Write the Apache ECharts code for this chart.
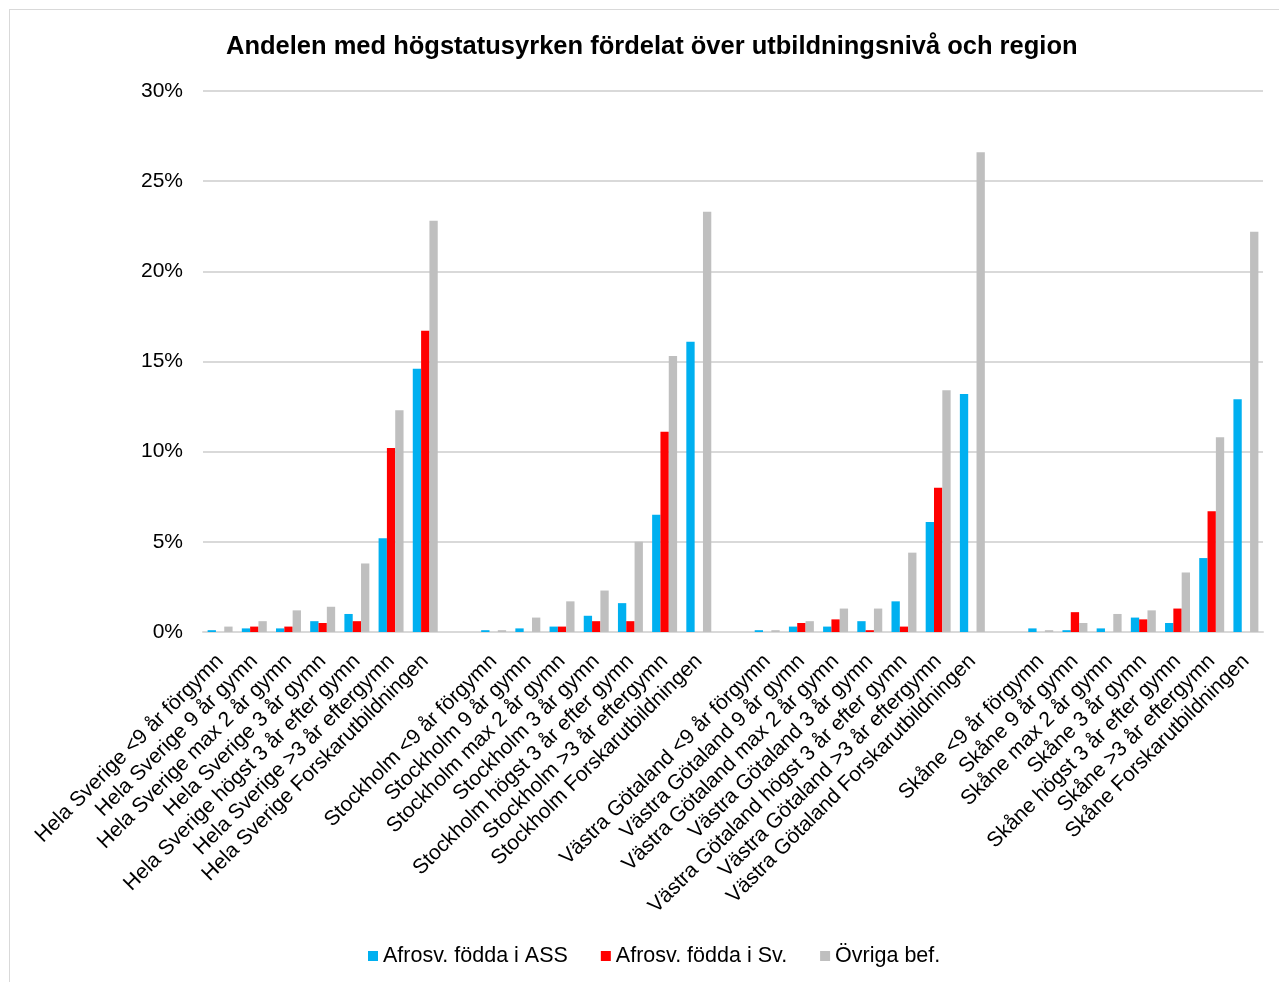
<!DOCTYPE html>
<html>
<head>
<meta charset="utf-8">
<script src="https://cdn.jsdelivr.net/npm/echarts@6/dist/echarts.min.js"></script>
<style>
    html, body { margin: 0; padding: 0; background: #fff; }
    #frame { position: absolute; left: 9px; top: 9px; width: 1300px; height: 1000px; border: 1px solid #d9d9d9; box-sizing: border-box; }
    #chart { position: absolute; left: 0; top: 0; width: 1279px; height: 982px; }
</style>
</head>
<body>
<div id="frame"></div>
<div id="chart"></div>
<script>
// categories: 4 regions x 7 levels, an empty slot between regions
let categories = [
    'Hela Sverige <9 år förgymn', 'Hela Sverige 9 år gymn', 'Hela Sverige max 2 år gymn', 'Hela Sverige 3 år gymn',
    'Hela Sverige högst 3 år efter gymn', 'Hela Sverige >3 år eftergymn', 'Hela Sverige Forskarutbildningen',
    '',
    'Stockholm <9 år förgymn', 'Stockholm 9 år gymn', 'Stockholm max 2 år gymn', 'Stockholm 3 år gymn',
    'Stockholm högst 3 år efter gymn', 'Stockholm >3 år eftergymn', 'Stockholm Forskarutbildningen',
    '',
    'Västra Götaland <9 år förgymn', 'Västra Götaland 9 år gymn', 'Västra Götaland max 2 år gymn', 'Västra Götaland 3 år gymn',
    'Västra Götaland högst 3 år efter gymn', 'Västra Götaland >3 år eftergymn', 'Västra Götaland Forskarutbildningen',
    '',
    'Skåne <9 år förgymn', 'Skåne 9 år gymn', 'Skåne max 2 år gymn', 'Skåne 3 år gymn',
    'Skåne högst 3 år efter gymn', 'Skåne >3 år eftergymn', 'Skåne Forskarutbildningen'
];

let seriesNames = ['Afrosv. födda i ASS', 'Afrosv. födda i Sv.', 'Övriga bef.'];

// values in percent
let afroAss = [
    0.1, 0.2, 0.2, 0.6, 1.0, 5.2, 14.6,
    null,
    0.1, 0.2, 0.3, 0.9, 1.6, 6.5, 16.1,
    null,
    0.1, 0.3, 0.3, 0.6, 1.7, 6.1, 13.2,
    null,
    0.2, 0.1, 0.2, 0.8, 0.5, 4.1, 12.9
];
let afroSv = [
    null, 0.3, 0.3, 0.5, 0.6, 10.2, 16.7,
    null,
    null, null, 0.3, 0.6, 0.6, 11.1, null,
    null,
    null, 0.5, 0.7, 0.1, 0.3, 8.0, null,
    null,
    null, 1.1, null, 0.7, 1.3, 6.7, null
];
let ovriga = [
    0.3, 0.6, 1.2, 1.4, 3.8, 12.3, 22.8,
    null,
    0.1, 0.8, 1.7, 2.3, 5.0, 15.3, 23.3,
    null,
    0.1, 0.6, 1.3, 1.3, 4.4, 13.4, 26.6,
    null,
    0.1, 0.5, 1.0, 1.2, 3.3, 10.8, 22.2
];

let yTicks = [0, 5, 10, 15, 20, 25, 30];

let colors = ['#00B0F0', '#FF0000', '#BFBFBF'];
let font = '"Liberation Sans", Arial, sans-serif';

let chart = echarts.init(document.getElementById('chart'));

let makeSeries = function(name, data){
    return {
        name: name,
        type: 'bar',
        data: data,
        barGap: '0%',
        barCategoryGap: '27%',
        animation: false
    };
};

chart.setOption({
    color: colors,
    textStyle: { fontFamily: font },
    title: {
        text: 'Andelen med högstatusyrken fördelat över utbildningsnivå och region',
        left: 221,
        top: 29,
        textStyle: { fontFamily: font, fontSize: 25.5, fontWeight: 'bold', color: '#000' }
    },
    legend: {
        data: seriesNames,
        left: 363,
        top: 940,
        itemWidth: 10,
        itemHeight: 10,
        itemGap: 33,
        icon: 'rect',
        textStyle: { fontFamily: font, fontSize: 21.5, color: '#000' }
    },
    grid: {
        left: 203,
        right: 16,
        top: 91,
        bottom: 350,
        containLabel: false
    },
    xAxis: {
        type: 'category',
        data: categories,
        axisTick: { show: false },
        axisLine: { show: true, lineStyle: { color: '#d9d9d9', width: 2 } },
        axisLabel: {
            interval: 0,
            rotate: 45,
            margin: 26,
            fontFamily: font,
            fontSize: 21,
            color: '#000'
        }
    },
    yAxis: {
        type: 'value',
        min: yTicks[0],
        max: yTicks[yTicks.length - 1],
        interval: 5,
        axisLine: { show: false },
        axisTick: { show: false },
        splitLine: { lineStyle: { color: '#d9d9d9', width: 2 } },
        axisLabel: {
            formatter: '{value}%',
            margin: 20,
            fontFamily: font,
            fontSize: 21,
            color: '#000'
        }
    },
    series: [
        makeSeries(seriesNames[0], afroAss),
        makeSeries(seriesNames[1], afroSv),
        makeSeries(seriesNames[2], ovriga)
    ]
});
</script>
</body>
</html>
